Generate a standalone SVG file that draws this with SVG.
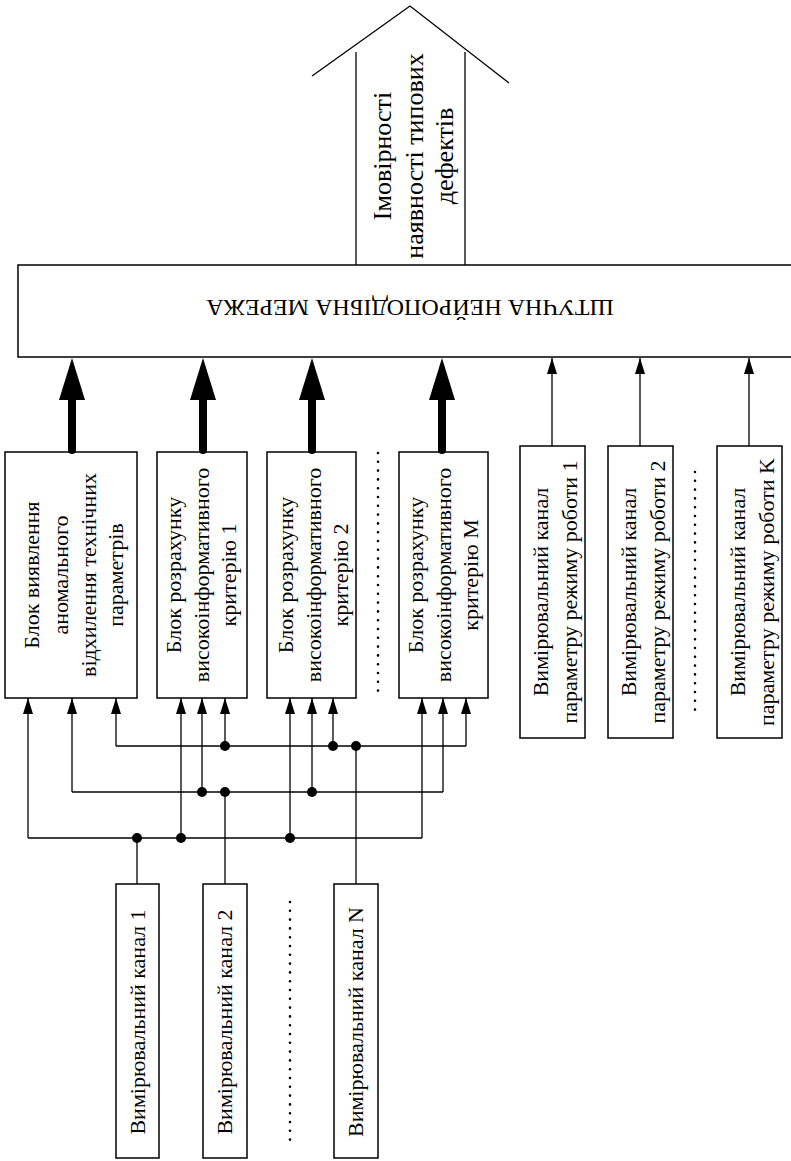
<svg xmlns="http://www.w3.org/2000/svg" width="791" height="1161" viewBox="0 0 791 1161">
<style>
.box{fill:#fff;stroke:#000;stroke-width:1.5}
.w{fill:none;stroke:#000;stroke-width:1.3}
.thin{fill:none;stroke:#000;stroke-width:1.3;marker-end:url(#ah)}
.thick{fill:none;stroke:#000;stroke-width:8;stroke-linecap:round;marker-end:url(#bh)}
.dot{fill:#000}
.dots{fill:none;stroke:#000;stroke-width:2.6;stroke-linecap:round;stroke-dasharray:0 8.8}
text{font-family:"Liberation Serif","Times New Roman",serif;fill:#000}
.t22{font-size:22px}
.t24{font-size:24px}
.t26{font-size:26px}
</style>
<defs>
<marker id="ah" markerUnits="userSpaceOnUse" viewBox="0 -5 16 10" markerWidth="16" markerHeight="10" refX="16" refY="0" orient="auto"><path d="M0,-5 L16,0 L0,5 z" fill="#000"/></marker>
<marker id="bh" markerUnits="userSpaceOnUse" viewBox="0 -13 42 26" markerWidth="42" markerHeight="26" refX="0" refY="0" orient="auto"><path d="M0,-13 L42,0 L0,13 z" fill="#000"/></marker>
</defs>
<rect width="791" height="1161" fill="#fff"/>

<g id="output-arrow">
<polyline class="w" points="312,76 410,6 509,83"/>
<line class="w" x1="356" y1="52" x2="356" y2="265"/>
<line class="w" x1="465" y1="52" x2="465" y2="265"/>
<g class="t26" text-anchor="middle">
<text transform="translate(391,156) rotate(-90)">Імовірності</text>
<text transform="translate(423,156) rotate(-90)">наявності типових</text>
<text transform="translate(453,156) rotate(-90)">дефектів</text>
</g>
</g>

<g id="neural-network">
<rect class="box" x="18" y="265" width="800" height="92"/>
<text class="t24" x="410" y="316" text-anchor="middle" transform="rotate(180 410 308)">ШТУЧНА НЕЙРОПОДІБНА МЕРЕЖА</text>
</g>

<g id="block-anomaly">
<rect class="box" x="5" y="452" width="132" height="246"/>
<g class="t22" text-anchor="middle">
<text transform="translate(39,575) rotate(-90)">Блок виявлення</text>
<text transform="translate(68,575) rotate(-90)">аномального</text>
<text transform="translate(96,575) rotate(-90)">відхилення технічних</text>
<text transform="translate(123,575) rotate(-90)">параметрів</text>
</g>
</g>

<g id="block-criterion-1">
<rect class="box" x="157" y="452" width="90" height="246"/>
<g class="t22" text-anchor="middle">
<text transform="translate(181,575) rotate(-90)">Блок розрахунку</text>
<text transform="translate(209,575) rotate(-90)">високоінформативного</text>
<text transform="translate(236,575) rotate(-90)">критерію 1</text>
</g>
</g>

<g id="block-criterion-2">
<rect class="box" x="267" y="452" width="89" height="246"/>
<g class="t22" text-anchor="middle">
<text transform="translate(293,575) rotate(-90)">Блок розрахунку</text>
<text transform="translate(321,575) rotate(-90)">високоінформативного</text>
<text transform="translate(348,575) rotate(-90)">критерію 2</text>
</g>
</g>

<g id="block-criterion-M">
<rect class="box" x="399" y="452" width="89" height="246"/>
<g class="t22" text-anchor="middle">
<text transform="translate(423,575) rotate(-90)">Блок розрахунку</text>
<text transform="translate(451,575) rotate(-90)">високоінформативного</text>
<text transform="translate(478,575) rotate(-90)">критерію М</text>
</g>
</g>

<g id="mode-channel-1">
<rect class="box" x="520" y="446" width="65" height="292"/>
<g class="t22" text-anchor="middle">
<text transform="translate(548,592) rotate(-90)">Вимірювальний канал</text>
<text transform="translate(577,592) rotate(-90)">параметру режиму роботи 1</text>
</g>
</g>

<g id="mode-channel-2">
<rect class="box" x="608" y="446" width="65" height="292"/>
<g class="t22" text-anchor="middle">
<text transform="translate(636,592) rotate(-90)">Вимірювальний канал</text>
<text transform="translate(665,592) rotate(-90)">параметру режиму роботи 2</text>
</g>
</g>

<g id="mode-channel-K">
<rect class="box" x="717" y="446" width="65" height="292"/>
<g class="t22" text-anchor="middle">
<text transform="translate(745,592) rotate(-90)">Вимірювальний канал</text>
<text transform="translate(774,592) rotate(-90)">параметру режиму роботи K</text>
</g>
</g>

<g id="channel-1">
<rect class="box" x="116" y="884" width="43" height="274"/>
<text class="t22" text-anchor="middle" transform="translate(145,1022) rotate(-90)">Вимірювальний канал 1</text>
</g>
<g id="channel-2">
<rect class="box" x="203" y="884" width="44" height="274"/>
<text class="t22" text-anchor="middle" transform="translate(232,1022) rotate(-90)">Вимірювальний канал 2</text>
</g>
<g id="channel-N">
<rect class="box" x="334" y="884" width="44" height="274"/>
<text class="t22" text-anchor="middle" transform="translate(363,1022) rotate(-90)">Вимірювальний канал N</text>
</g>

<g id="ellipses">
<line class="dots" x1="378" y1="453" x2="378" y2="695"/>
<line class="dots" x1="695" y1="472" x2="695" y2="713"/>
<line class="dots" x1="290" y1="902" x2="290" y2="1143"/>
</g>

<g id="connectors">
<path class="thick" d="M72,450 V400"/>
<path class="thick" d="M203,450 V400"/>
<path class="thick" d="M312,450 V400"/>
<path class="thick" d="M442,450 V400"/>
<path class="thin" d="M552,446 V358"/>
<path class="thin" d="M640,446 V358"/>
<path class="thin" d="M749,446 V358"/>

<path class="w" d="M28,838 H422"/>
<path class="w" d="M72,792 H443"/>
<path class="w" d="M116,746 H466"/>

<path class="thin" d="M28,838 V698"/>
<path class="thin" d="M181,838 V698"/>
<path class="thin" d="M290,838 V698"/>
<path class="thin" d="M422,838 V698"/>

<path class="thin" d="M72,792 V698"/>
<path class="thin" d="M202,792 V698"/>
<path class="thin" d="M312,792 V698"/>
<path class="thin" d="M443,792 V698"/>

<path class="thin" d="M116,746 V698"/>
<path class="thin" d="M225,746 V698"/>
<path class="thin" d="M333,746 V698"/>
<path class="thin" d="M466,746 V698"/>

<path class="w" d="M137,884 V838"/>
<path class="w" d="M225,884 V792"/>
<path class="w" d="M356,884 V746"/>

<circle class="dot" cx="137" cy="838" r="5"/>
<circle class="dot" cx="181" cy="838" r="5"/>
<circle class="dot" cx="290" cy="838" r="5"/>
<circle class="dot" cx="202" cy="792" r="5"/>
<circle class="dot" cx="225" cy="792" r="5"/>
<circle class="dot" cx="312" cy="792" r="5"/>
<circle class="dot" cx="225" cy="746" r="5"/>
<circle class="dot" cx="333" cy="746" r="5"/>
<circle class="dot" cx="356" cy="746" r="5"/>
</g>
</svg>
